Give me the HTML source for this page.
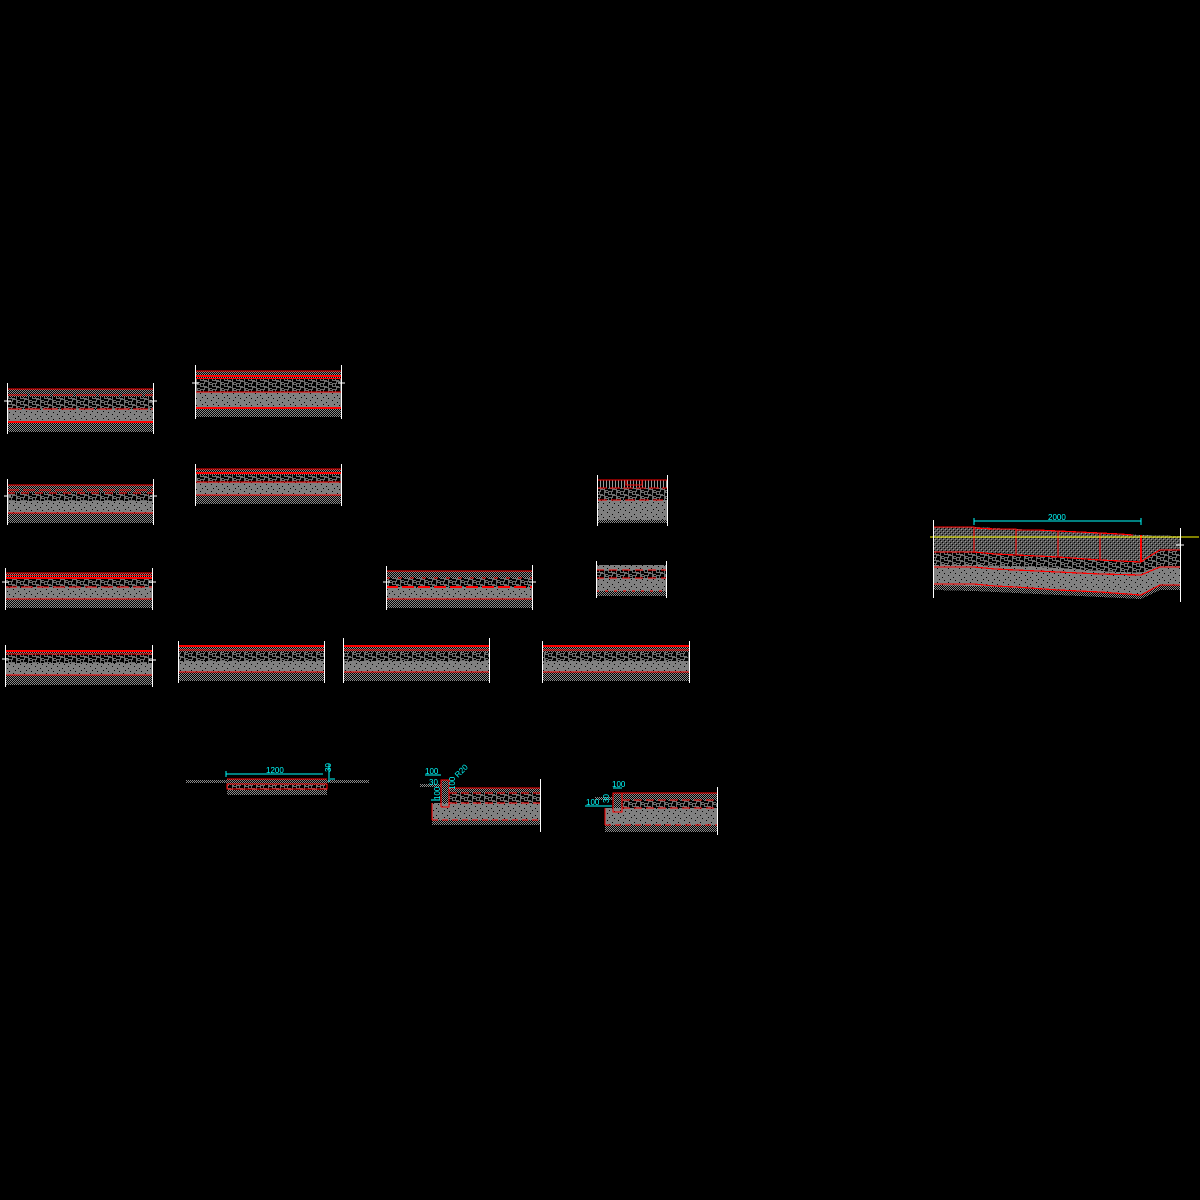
<!DOCTYPE html>
<html><head><meta charset="utf-8"><style>
html,body{margin:0;padding:0;background:#000;}
svg{display:block}
text{font-family:"Liberation Sans",sans-serif;fill:#00ffff;font-size:8px}
</style></head><body>
<svg width="1200" height="1200" viewBox="0 0 1200 1200" xmlns="http://www.w3.org/2000/svg" shape-rendering="crispEdges">
<defs>
<pattern id="ck" width="2" height="2" patternUnits="userSpaceOnUse"><rect width="2" height="2" fill="#000"/><rect width="1" height="1" fill="#8a8a8a"/><rect x="1" y="1" width="1" height="1" fill="#8a8a8a"/></pattern>
<pattern id="mx" width="12" height="6" patternUnits="userSpaceOnUse"><rect width="12" height="6" fill="#6e6e6e"/><rect x="0" y="0" width="4" height="2" fill="#000"/><rect x="5" y="1" width="3" height="3" fill="#000"/><rect x="8" y="3" width="4" height="2" fill="#000"/><rect x="1" y="4" width="3" height="2" fill="#000"/><rect x="9" y="0" width="2" height="2" fill="#000"/><rect x="6" y="5" width="2" height="1" fill="#000"/><rect x="3" y="2" width="1" height="1" fill="#000"/></pattern>
<pattern id="gr" width="11" height="7" patternUnits="userSpaceOnUse"><rect width="11" height="7" fill="#808080"/><rect x="2" y="1" width="1" height="1" fill="#000"/><rect x="7" y="3" width="1" height="1" fill="#000"/><rect x="4" y="5" width="1" height="1" fill="#000"/><rect x="9" y="6" width="1" height="1" fill="#000"/></pattern>
<pattern id="vh" width="3" height="4" patternUnits="userSpaceOnUse"><rect width="3" height="4" fill="#000"/><rect width="1" height="4" fill="#9a9a9a"/></pattern>
<pattern id="dh" width="4" height="4" patternUnits="userSpaceOnUse"><rect width="4" height="4" fill="#555"/><rect width="1" height="1" fill="#000"/><rect x="2" y="2" width="1" height="1" fill="#000"/><rect x="1" y="1" width="1" height="1" fill="#999"/><rect x="3" y="3" width="1" height="1" fill="#999"/></pattern>
</defs>

<g stroke-width="1.2">
<!-- S1 -->
<rect x="7" y="389" width="146" height="8" fill="url(#ck)"/>
<rect x="7" y="397" width="146" height="12" fill="url(#mx)"/>
<rect x="7" y="409" width="146" height="13" fill="url(#gr)"/>
<rect x="7" y="422" width="146" height="10" fill="url(#ck)"/>
<g stroke="#ff0000"><line x1="7" y1="389" x2="153" y2="389"/><line x1="7" y1="395" x2="153" y2="395" stroke-dasharray="20 3"/><line x1="7" y1="409" x2="153" y2="409" stroke-dasharray="15 3"/><line x1="7" y1="422" x2="153" y2="422" stroke-width="1.8"/></g>
<!-- S2 -->
<rect x="195" y="371" width="146" height="7" fill="url(#ck)"/>
<rect x="195" y="378" width="146" height="14" fill="url(#mx)"/>
<rect x="195" y="392" width="146" height="16" fill="url(#gr)"/>
<rect x="195" y="408" width="146" height="9" fill="url(#ck)"/>
<g stroke="#ff0000"><line x1="195" y1="371" x2="341" y2="371"/><line x1="195" y1="376" x2="341" y2="376" stroke-width="1.8"/><line x1="195" y1="378.5" x2="341" y2="378.5"/><line x1="195" y1="392" x2="341" y2="392"/><line x1="195" y1="408" x2="341" y2="408" stroke-width="1.8"/></g>
<!-- S3 -->
<rect x="7" y="485" width="146" height="8" fill="url(#ck)"/>
<rect x="7" y="493" width="146" height="8" fill="url(#mx)"/>
<rect x="7" y="501" width="146" height="12" fill="url(#gr)"/>
<rect x="7" y="513" width="146" height="10" fill="url(#ck)"/>
<g stroke="#ff0000"><line x1="7" y1="485" x2="153" y2="485"/><line x1="7" y1="490" x2="153" y2="490" stroke-dasharray="12 4"/><line x1="7" y1="493" x2="153" y2="493" stroke-dasharray="8 6"/><line x1="7" y1="513" x2="153" y2="513"/></g>
<!-- S4 -->
<rect x="195" y="469" width="146" height="6" fill="url(#ck)"/>
<rect x="195" y="475" width="146" height="7" fill="url(#mx)"/>
<rect x="195" y="482" width="146" height="13" fill="url(#gr)"/>
<rect x="195" y="495" width="146" height="9" fill="url(#ck)"/>
<g stroke="#ff0000"><line x1="195" y1="469" x2="341" y2="469"/><line x1="195" y1="473" x2="341" y2="473" stroke-width="1.6"/><line x1="195" y1="482" x2="341" y2="482"/><line x1="195" y1="495" x2="341" y2="495"/></g>
<!-- S5 -->
<rect x="597" y="480" width="70" height="8" fill="url(#vh)"/>
<rect x="597" y="488" width="70" height="12" fill="url(#mx)"/>
<rect x="597" y="500" width="70" height="20" fill="url(#gr)"/>
<rect x="597" y="520" width="70" height="3" fill="url(#ck)"/>
<g stroke="#ff0000"><line x1="597" y1="480" x2="667" y2="480"/><rect x="626" y="480" width="16" height="5" fill="none"/><line x1="597" y1="488" x2="667" y2="488" stroke-dasharray="10 3"/><line x1="597" y1="500" x2="667" y2="500" stroke-dasharray="10 4"/></g>
<!-- S6 -->
<rect x="5" y="573" width="147" height="6" fill="url(#ck)"/>
<rect x="5" y="579" width="147" height="8" fill="url(#mx)"/>
<rect x="5" y="587" width="147" height="12" fill="url(#gr)"/>
<rect x="5" y="599" width="147" height="9" fill="url(#ck)"/>
<g stroke="#ff0000"><line x1="5" y1="573" x2="152" y2="573"/><line x1="5" y1="575.5" x2="152" y2="575.5"/><line x1="5" y1="578" x2="152" y2="578" stroke-width="1.6"/><line x1="5" y1="587" x2="152" y2="587" stroke-dasharray="12 4"/><line x1="5" y1="599" x2="152" y2="599"/></g>
<!-- S7 -->
<rect x="386" y="571" width="146" height="7" fill="url(#ck)"/>
<rect x="386" y="578" width="146" height="9" fill="url(#mx)"/>
<rect x="386" y="587" width="146" height="12" fill="url(#gr)"/>
<rect x="386" y="599" width="146" height="9" fill="url(#ck)"/>
<g stroke="#ff0000"><line x1="386" y1="571" x2="532" y2="571"/><line x1="386" y1="578" x2="532" y2="578" stroke-dasharray="4 8"/><line x1="386" y1="587" x2="532" y2="587" stroke-dasharray="12 4" stroke-width="1.6"/><line x1="386" y1="599" x2="532" y2="599"/></g>
<!-- S8 -->
<rect x="596" y="565" width="70" height="5" fill="url(#gr)"/>
<rect x="596" y="570" width="70" height="8" fill="url(#mx)"/>
<rect x="596" y="578" width="70" height="13" fill="url(#gr)"/>
<rect x="596" y="591" width="70" height="5" fill="url(#ck)"/>
<g stroke="#ff0000"><line x1="596" y1="570" x2="666" y2="570" stroke-dasharray="8 5"/><line x1="596" y1="578" x2="666" y2="578" stroke-dasharray="8 5"/><line x1="596" y1="591" x2="666" y2="591" stroke-dasharray="3 6"/></g>
<!-- Row4 -->
<rect x="5" y="651" width="147" height="3" fill="url(#ck)"/>
<rect x="5" y="654" width="147" height="9" fill="url(#mx)"/>
<rect x="5" y="663" width="147" height="12" fill="url(#gr)"/>
<rect x="5" y="675" width="147" height="10" fill="url(#ck)"/>
<g stroke="#ff0000"><line x1="5" y1="651" x2="152" y2="651" stroke-width="2"/><line x1="5" y1="654" x2="152" y2="654"/><line x1="5" y1="675" x2="152" y2="675"/></g>
<rect x="178" y="646" width="146" height="6" fill="url(#ck)"/>
<rect x="178" y="652" width="146" height="9" fill="url(#mx)"/>
<rect x="178" y="661" width="146" height="11" fill="url(#gr)"/>
<rect x="178" y="672" width="146" height="9" fill="url(#ck)"/>
<rect x="343" y="646" width="146" height="6" fill="url(#ck)"/>
<rect x="343" y="652" width="146" height="9" fill="url(#mx)"/>
<rect x="343" y="661" width="146" height="11" fill="url(#gr)"/>
<rect x="343" y="672" width="146" height="9" fill="url(#ck)"/>
<rect x="542" y="646" width="147" height="6" fill="url(#ck)"/>
<rect x="542" y="652" width="147" height="9" fill="url(#mx)"/>
<rect x="542" y="661" width="147" height="11" fill="url(#gr)"/>
<rect x="542" y="672" width="147" height="9" fill="url(#ck)"/>
<g stroke="#ff0000">
<line x1="178" y1="646" x2="324" y2="646" stroke-width="2"/><line x1="178" y1="650" x2="324" y2="650"/><line x1="178" y1="672" x2="324" y2="672"/>
<line x1="343" y1="646" x2="489" y2="646" stroke-width="2"/><line x1="343" y1="650" x2="489" y2="650"/><line x1="343" y1="672" x2="489" y2="672"/>
<line x1="542" y1="646" x2="689" y2="646" stroke-width="2"/><line x1="542" y1="650" x2="689" y2="650"/><line x1="542" y1="672" x2="689" y2="672"/>
</g>

<!-- white end lines -->
<g stroke="#fff" stroke-width="1">
<line x1="7.5" y1="383" x2="7.5" y2="434"/><line x1="153.5" y1="383" x2="153.5" y2="434"/>
<line x1="195.5" y1="365" x2="195.5" y2="419"/><line x1="341.5" y1="365" x2="341.5" y2="419"/>
<line x1="7.5" y1="479" x2="7.5" y2="525"/><line x1="153.5" y1="479" x2="153.5" y2="525"/>
<line x1="195.5" y1="464" x2="195.5" y2="506"/><line x1="341.5" y1="464" x2="341.5" y2="506"/>
<line x1="597.5" y1="475" x2="597.5" y2="526"/><line x1="667.5" y1="475" x2="667.5" y2="526"/>
<line x1="5.5" y1="568" x2="5.5" y2="610"/><line x1="152.5" y1="568" x2="152.5" y2="610"/>
<line x1="386.5" y1="566" x2="386.5" y2="610"/><line x1="532.5" y1="565" x2="532.5" y2="610"/>
<line x1="596.5" y1="561" x2="596.5" y2="598"/><line x1="666.5" y1="561" x2="666.5" y2="598"/>
<line x1="5.5" y1="645" x2="5.5" y2="687"/><line x1="152.5" y1="645" x2="152.5" y2="687"/>
<line x1="178.5" y1="641" x2="178.5" y2="683"/><line x1="324.5" y1="641" x2="324.5" y2="683"/>
<line x1="343.5" y1="638" x2="343.5" y2="683"/><line x1="489.5" y1="638" x2="489.5" y2="683"/>
<line x1="542.5" y1="641" x2="542.5" y2="683"/><line x1="689.5" y1="641" x2="689.5" y2="683"/>
<line x1="4" y1="401" x2="11" y2="401"/><line x1="150" y1="401" x2="157" y2="401"/>
<line x1="192" y1="383" x2="199" y2="383"/><line x1="338" y1="383" x2="345" y2="383"/>
<line x1="4" y1="496" x2="11" y2="496"/><line x1="150" y1="496" x2="157" y2="496"/>
<line x1="2" y1="582" x2="9" y2="582"/><line x1="149" y1="582" x2="156" y2="582"/>
<line x1="383" y1="582" x2="390" y2="582"/><line x1="529" y1="582" x2="536" y2="582"/>
<line x1="2" y1="659" x2="9" y2="659"/><line x1="149" y1="660" x2="156" y2="660"/>
</g>

<!-- Right big section -->
<polygon points="933,527 974,527 1016,529 1058,531 1100,533 1141,535 1180,536 1180,552 1160,550 1141,562 1100,560 1058,557 1016,554 974,552 933,552" fill="url(#dh)"/>
<polygon points="933,552 974,552 1016,554 1058,557 1100,560 1141,562 1160,550 1180,550 1180,566 1160,566 1141,573 1100,571 1058,568 1016,566 974,565 933,565" fill="url(#mx)"/>
<polygon points="933,565 974,565 1016,566 1058,568 1100,571 1141,573 1160,566 1180,566 1180,585 1160,585 1141,595 1100,592 1058,590 1016,588 974,586 933,585" fill="url(#gr)"/>
<polygon points="933,585 974,586 1016,588 1058,590 1100,592 1141,595 1160,585 1180,585 1180,590 1160,590 1141,599 1100,597 1058,595 1016,593 974,591 933,590" fill="url(#ck)"/>
<g stroke="#ff0000" fill="none">
<polyline points="933,527 974,527 974,528 995,529 1016,529 1016,530 1037,530 1058,531 1079,532 1100,533 1120,534 1133,535"/>
<polyline points="933,552 974,552 995,554 1016,555 1058,557 1100,560 1141,562 1150,556 1160,550 1180,550"/>
<polyline points="933,567 974,567 995,569 1016,570 1058,572 1100,574 1141,575 1160,567 1180,567"/>
<polyline points="933,584 974,584 995,586 1016,587 1058,590 1100,592 1141,595 1160,585 1180,585"/>
<line x1="974" y1="527" x2="974" y2="553"/><line x1="1016" y1="529" x2="1016" y2="555"/><line x1="1058" y1="531" x2="1058" y2="557"/><line x1="1100" y1="533" x2="1100" y2="560"/><line x1="1141" y1="535" x2="1141" y2="562" stroke-width="2"/>
</g>
<line x1="930" y1="537" x2="1199" y2="537" stroke="#ffff00" stroke-width="1"/>
<g stroke="#fff"><line x1="933.5" y1="520" x2="933.5" y2="598"/><line x1="1180.5" y1="528" x2="1180.5" y2="602"/><line x1="1176" y1="545" x2="1184" y2="545"/></g>
<g stroke="#00ffff"><line x1="974" y1="521" x2="1141" y2="521"/><line x1="974" y1="518" x2="974" y2="525"/><line x1="1141" y1="518" x2="1141" y2="525"/></g>
<text x="1048" y="520" font-size="9">2000</text>

<!-- B1 -->
<rect x="186" y="780" width="41" height="3" fill="url(#ck)"/><rect x="327" y="780" width="42" height="3" fill="url(#ck)"/>
<rect x="227" y="779" width="100" height="6" fill="url(#ck)"/>
<rect x="227" y="785" width="100" height="5" fill="url(#mx)"/>
<rect x="227" y="790" width="100" height="5" fill="url(#ck)"/>
<g stroke="#ff0000" fill="none"><line x1="227" y1="779" x2="327" y2="779"/><rect x="227" y="784" width="100" height="5"/></g>
<g stroke="#00ffff"><line x1="226" y1="774" x2="323" y2="774"/><line x1="226" y1="771" x2="226" y2="777"/><line x1="329" y1="764" x2="329" y2="782"/><line x1="330" y1="779" x2="335" y2="779"/></g>
<text x="266" y="773">1200</text>
<text x="0" y="0" transform="translate(331,772) rotate(-90)">30</text>

<!-- B2 -->
<rect x="420" y="784" width="21" height="3" fill="url(#ck)"/>
<rect x="441" y="780" width="8" height="27" fill="url(#ck)"/>
<rect x="449" y="788" width="91" height="5" fill="url(#ck)"/>
<rect x="449" y="793" width="91" height="10" fill="url(#mx)"/>
<rect x="432" y="803" width="108" height="17" fill="url(#gr)"/>
<rect x="432" y="820" width="108" height="5" fill="url(#ck)"/>
<g stroke="#ff0000" fill="none"><polyline points="441,807 441,780 449,780 449,807 441,807"/><line x1="449" y1="788" x2="540" y2="788"/><line x1="449" y1="793" x2="540" y2="793" stroke-dasharray="8 4"/><line x1="449" y1="803" x2="540" y2="803" stroke-dasharray="8 4"/><line x1="432" y1="803" x2="432" y2="820"/><line x1="432" y1="820" x2="540" y2="820" stroke-dasharray="6 4"/></g>
<g stroke="#00ffff"><line x1="425" y1="775" x2="441" y2="775"/><line x1="431" y1="800" x2="440" y2="800"/></g>
<text x="425" y="774">100</text>
<text x="429" y="785" font-size="7">30</text>
<text x="0" y="0" transform="translate(440,800) rotate(-90)">100</text>
<text x="0" y="0" transform="translate(455,790) rotate(-90)">100</text>
<text x="0" y="0" transform="translate(458,778) rotate(-45)" font-size="7">R20</text>
<g stroke="#fff"><line x1="540.5" y1="779" x2="540.5" y2="832"/></g>

<!-- B3 -->
<rect x="595" y="797" width="18" height="3" fill="url(#ck)"/>
<rect x="613" y="793" width="9" height="19" fill="url(#ck)"/>
<rect x="622" y="793" width="95" height="7" fill="url(#ck)"/>
<rect x="622" y="800" width="95" height="8" fill="url(#mx)"/>
<rect x="605" y="808" width="112" height="17" fill="url(#gr)"/>
<rect x="605" y="825" width="112" height="7" fill="url(#ck)"/>
<g stroke="#ff0000" fill="none"><rect x="613" y="793" width="9" height="19"/><line x1="622" y1="793" x2="717" y2="793"/><line x1="622" y1="800" x2="717" y2="800" stroke-dasharray="8 4"/><line x1="622" y1="808" x2="717" y2="808" stroke-dasharray="8 4"/><line x1="605" y1="808" x2="605" y2="825"/><line x1="605" y1="825" x2="717" y2="825" stroke-dasharray="6 4"/></g>
<g stroke="#00ffff"><line x1="585" y1="806" x2="612" y2="806"/><line x1="613" y1="788" x2="622" y2="788"/></g>
<text x="612" y="787">100</text>
<text x="586" y="805">100</text>
<text x="0" y="0" transform="translate(609,803) rotate(-90)" font-size="7">30</text>
<g stroke="#fff"><line x1="717.5" y1="787" x2="717.5" y2="835"/></g>
</g>
</svg>
</body></html>
